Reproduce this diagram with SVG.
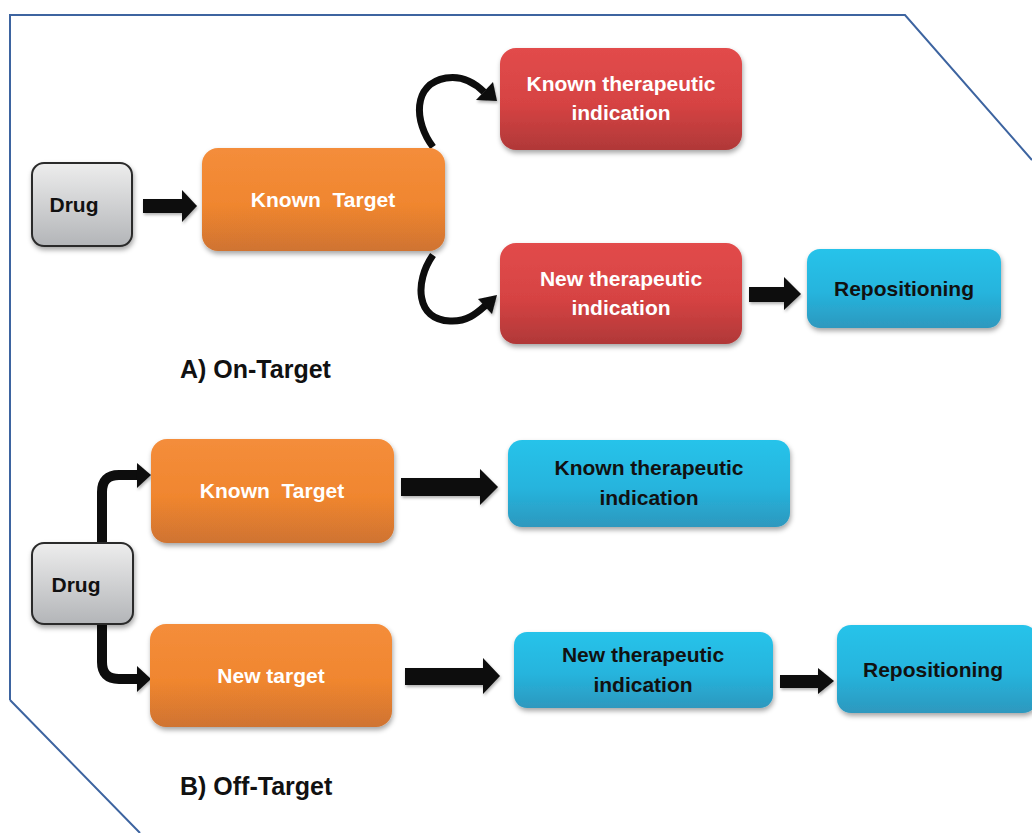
<svg xmlns="http://www.w3.org/2000/svg" width="1032" height="833" viewBox="0 0 1032 833">
<style>
  .t{font-family:"Liberation Sans",Arial,sans-serif;font-weight:bold;font-size:21px;text-anchor:middle}
  .w{fill:#ffffff}
  .k{fill:#111111}
  .lbl{font-family:"Liberation Sans",Arial,sans-serif;font-weight:bold;font-size:25px;fill:#111111}
  .orange{fill:url(#gO);filter:url(#sh)}
  .red{fill:url(#gR);filter:url(#sh)}
  .blue{fill:url(#gB);filter:url(#sh)}
  .gray{fill:url(#gG);stroke:#2a2a2a;stroke-width:2;filter:url(#sh)}
  .blk{fill:#0d0d0d;filter:url(#sh2)}
  .cv{fill:none;stroke:#0d0d0d;stroke-linecap:butt}
</style>
<defs>
  <linearGradient id="gO" x1="0" y1="0" x2="0" y2="1">
    <stop offset="0" stop-color="#F48D3B"/><stop offset="0.55" stop-color="#F0862F"/><stop offset="1" stop-color="#CF7330"/>
  </linearGradient>
  <linearGradient id="gR" x1="0" y1="0" x2="0" y2="1">
    <stop offset="0" stop-color="#E24B4B"/><stop offset="0.55" stop-color="#D64343"/><stop offset="1" stop-color="#B03838"/>
  </linearGradient>
  <linearGradient id="gB" x1="0" y1="0" x2="0" y2="1">
    <stop offset="0" stop-color="#27C3EA"/><stop offset="0.55" stop-color="#25B4DD"/><stop offset="1" stop-color="#2E98BE"/>
  </linearGradient>
  <linearGradient id="gG" x1="0" y1="0" x2="0" y2="1">
    <stop offset="0" stop-color="#EDEDED"/><stop offset="1" stop-color="#B3B5B8"/>
  </linearGradient>
  <filter id="sh" x="-10%" y="-10%" width="125%" height="130%">
    <feDropShadow dx="1" dy="3" stdDeviation="2.5" flood-color="#000" flood-opacity="0.35"/>
  </filter>
  <filter id="sh2" x="-10%" y="-20%" width="130%" height="150%">
    <feDropShadow dx="1" dy="2" stdDeviation="1.5" flood-color="#000" flood-opacity="0.3"/>
  </filter>
</defs>
<rect width="1032" height="833" fill="#ffffff"/>
<path d="M10,700 V15 H905 L1032,160 M10,700 L140,833" fill="none" stroke="#3D64A0" stroke-width="2"/>

<g id="connectors">
  <!-- A -->
  <polygon class="blk" points="143,199 182,199 182,190 197,206 182,222 182,213 143,213"/>
  <path class="cv" stroke-width="7" d="M433,147 C414,122 412,84 446,78 C464,75 476,84 484,92"/>
  <polygon class="blk" points="476,100 493,82 497,101"/>
  <path class="cv" stroke-width="7" d="M433,255 C414,282 416,320 450,321 C468,322 478,312 486,305"/>
  <polygon class="blk" points="478,299 497,295 492,314"/>
  <polygon class="blk" points="749,287 784,287 784,277 801,294 784,310 784,302 749,302"/>
  <!-- B -->
  <path class="cv" stroke-width="10" d="M102,543 V492 Q102,475 119,475 H139"/>
  <polygon class="blk" points="137,463 151,475 137,488"/>
  <path class="cv" stroke-width="10" d="M102,624 V662 Q102,679 119,679 H139"/>
  <polygon class="blk" points="137,666 151,679 137,692"/>
  <polygon class="blk" points="401,478 480,478 480,469 498,487 480,505 480,496 401,496"/>
  <polygon class="blk" points="405,668 483,668 483,658 500,676 483,694 483,685 405,685"/>
  <polygon class="blk" points="780,675 818,675 818,668 834,681 818,694 818,688 780,688"/>
</g>

<g id="drugA">
  <rect class="gray" x="32" y="163" width="100" height="83" rx="12"/>
  <text class="t k" x="74" y="212">Drug</text>
</g>
<g id="knownTargetA">
  <rect class="orange" x="202" y="148" width="243" height="103" rx="16"/>
  <text class="t w" x="323" y="207" xml:space="preserve">Known  Target</text>
</g>
<g id="knownIndicationA">
  <rect class="red" x="500" y="48" width="242" height="102" rx="16"/>
  <text class="t w" x="621" y="91">Known therapeutic</text>
  <text class="t w" x="621" y="120">indication</text>
</g>
<g id="newIndicationA">
  <rect class="red" x="500" y="243" width="242" height="101" rx="16"/>
  <text class="t w" x="621" y="286">New therapeutic</text>
  <text class="t w" x="621" y="315">indication</text>
</g>
<g id="repositioningA">
  <rect class="blue" x="807" y="249" width="194" height="79" rx="13"/>
  <text class="t k" x="904" y="296">Repositioning</text>
</g>
<text class="lbl" x="180" y="378">A) On-Target</text>

<g id="drugB">
  <rect class="gray" x="32" y="543" width="101" height="81" rx="12"/>
  <text class="t k" x="76" y="592">Drug</text>
</g>
<g id="knownTargetB">
  <rect class="orange" x="151" y="439" width="243" height="104" rx="16"/>
  <text class="t w" x="272" y="498" xml:space="preserve">Known  Target</text>
</g>
<g id="newTargetB">
  <rect class="orange" x="150" y="624" width="242" height="103" rx="16"/>
  <text class="t w" x="271" y="683">New target</text>
</g>
<g id="knownIndicationB">
  <rect class="blue" x="508" y="440" width="282" height="87" rx="14"/>
  <text class="t k" x="649" y="475">Known therapeutic</text>
  <text class="t k" x="649" y="505">indication</text>
</g>
<g id="newIndicationB">
  <rect class="blue" x="514" y="632" width="259" height="76" rx="13"/>
  <text class="t k" x="643" y="662">New therapeutic</text>
  <text class="t k" x="643" y="692">indication</text>
</g>
<g id="repositioningB">
  <rect class="blue" x="837" y="625" width="200" height="88" rx="14"/>
  <text class="t k" x="933" y="677">Repositioning</text>
</g>
<text class="lbl" x="180" y="795">B) Off-Target</text>
</svg>
